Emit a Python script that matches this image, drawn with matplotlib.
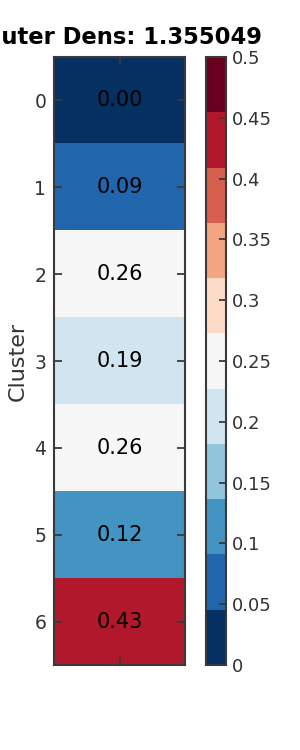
import matplotlib
matplotlib.use("Agg")
import matplotlib.pyplot as plt
import numpy as np
from matplotlib.colors import ListedColormap

clusters = [0, 1, 2, 3, 4, 5, 6]
density = [0.00, 0.09, 0.26, 0.19, 0.26, 0.12, 0.43]
title = "Cluter Dens: 1.355049"
cbar_ticks = [0, 0.05, 0.1, 0.15, 0.2, 0.25, 0.3, 0.35, 0.4, 0.45, 0.5]
cbar_labels = ["0", "0.05", "0.1", "0.15", "0.2", "0.25", "0.3",
               "0.35", "0.4", "0.45", "0.5"]

# 11-class RdBu, reversed (blue = low)
rdbu11 = ["#053061", "#2166ac", "#4393c3", "#92c5de", "#d1e5f0", "#f7f7f7",
          "#fddbc7", "#f4a582", "#d6604d", "#b2182b", "#67001f"]
cmap = ListedColormap(rdbu11)
edge = "#3a3a3a"

fig = plt.figure(figsize=(3, 7.5), dpi=100)
ax = fig.add_axes([0.18, 0.1133, 0.4367, 0.8107])
cax = fig.add_axes([0.687, 0.1133, 0.0667, 0.8107])

data = np.array(density).reshape(-1, 1)
im = ax.imshow(data, cmap=cmap, vmin=0, vmax=0.5, aspect="auto",
               interpolation="nearest")
for i, v in enumerate(density):
    ax.text(0, i, f"{v:.2f}", ha="center", va="center", fontsize=15, color="black")

ax.set_yticks(range(len(clusters)))
ax.set_yticklabels([str(c) for c in clusters], fontsize=13.5)
ax.set_xticks([0])
ax.set_xticklabels([""])
ax.tick_params(axis="both", which="both", direction="in", length=6, width=1.3,
               color=edge, left=True, right=True, top=True, bottom=True,
               labelcolor="#333333", pad=5.5)
for s in ax.spines.values():
    s.set_color(edge)
    s.set_linewidth(1.5)
ax.set_ylabel("Cluster", fontsize=16, color="#333333", labelpad=5)
ax.set_title(title, fontsize=16.3, fontweight="bold", pad=9)

cb = fig.colorbar(im, cax=cax, ticks=cbar_ticks)
cb.ax.set_yticklabels(cbar_labels)
cb.ax.tick_params(direction="in", length=5, width=1.3, color=edge,
                  labelsize=13, labelcolor="#333333", pad=4)
cb.outline.set_edgecolor(edge)
cb.outline.set_linewidth(1.5)

fig.savefig("out.png", dpi=100)
